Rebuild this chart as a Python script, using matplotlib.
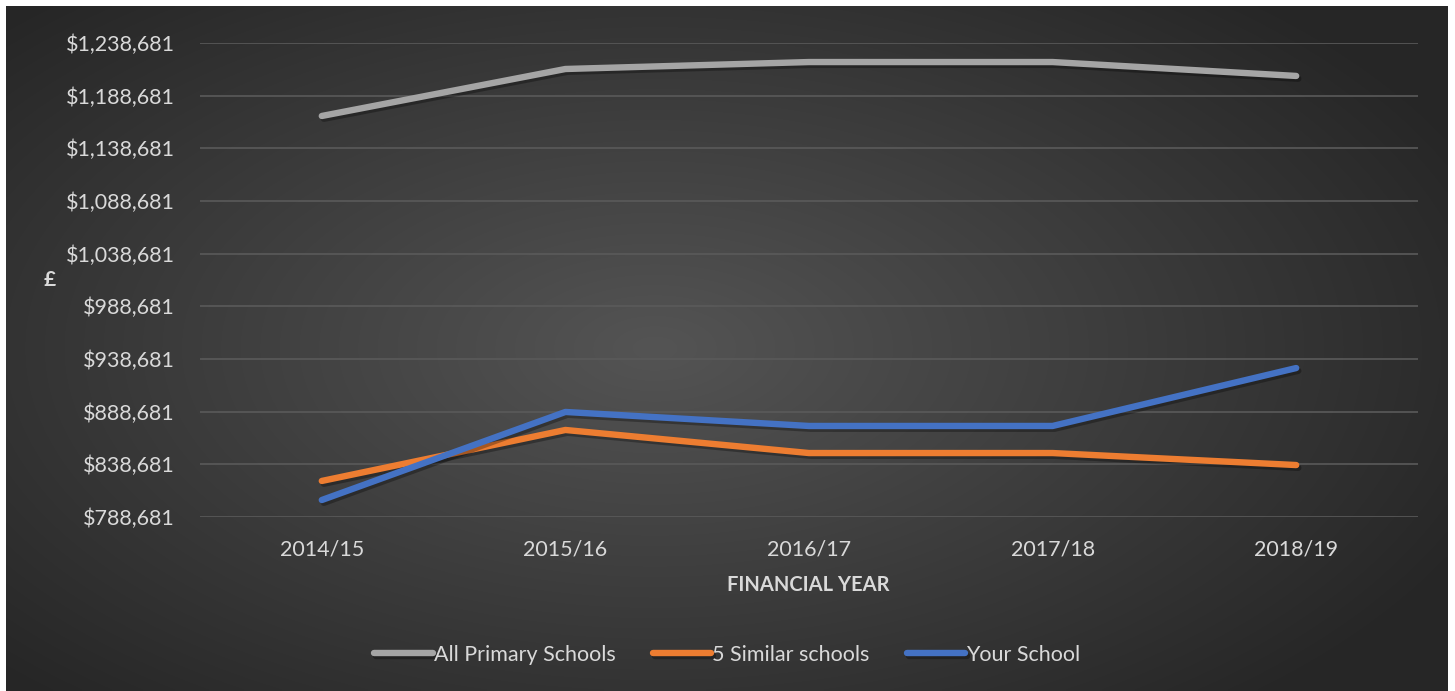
import matplotlib.pyplot as plt
import matplotlib.patheffects as pe
from matplotlib.ticker import FixedLocator
import numpy as np

plt.rcParams['font.family'] = ['Lato', 'DejaVu Sans']

# data
years = ['2014/15', '2015/16', '2016/17', '2017/18', '2018/19']
all_primary = [1169400, 1214000, 1220600, 1220600, 1207400]
similar5 = [822900, 871300, 849400, 849400, 838000]
your_school = [804800, 888400, 875100, 875100, 930100]
yticks = [788681, 838681, 888681, 938681, 988681, 1038681, 1088681, 1138681, 1188681, 1238681]

txt = '#D9D9D9'
W, H = 1455, 691
fig = plt.figure(figsize=(W / 100, H / 100), dpi=100)
fig.patch.set_facecolor('white')

# dark radial background panel
bg = fig.add_axes([6 / W, 0, (1448 - 6) / W, (H - 6) / H])
bg.set_axis_off()
gx, gy = np.meshgrid(np.linspace(-1, 1, 400), np.linspace(-1, 1, 200))
r = np.sqrt((gx + 0.1) ** 2 + (gy * 0.9) ** 2)
r = np.clip(r / 1.25, 0, 1)
c = 0.33 - 0.18 * r
img = np.dstack([c, c, c])
bg.imshow(img, aspect='auto', extent=[0, 1, 0, 1], interpolation='bilinear')

ax = fig.add_axes([200 / W, 1 - 517 / H, (1418 - 200) / W, (517 - 43) / H])
ax.set_facecolor('none')
x = np.arange(len(years))
shadow = [pe.SimpleLineShadow(offset=(1.5, -2), shadow_color='black', alpha=0.3), pe.Normal()]
ax.plot(x, all_primary, color='#A5A5A5', lw=4.6, solid_capstyle='round', label='All Primary Schools', path_effects=shadow)
ax.plot(x, similar5, color='#ED7D31', lw=4.6, solid_capstyle='round', label='5 Similar schools', path_effects=shadow)
ax.plot(x, your_school, color='#4472C4', lw=4.6, solid_capstyle='round', label='Your School', path_effects=shadow)

ax.set_xlim(-0.5, 4.5)
ax.set_ylim(yticks[0], yticks[-1])
ax.set_xticks(x)
ax.set_xticklabels(years)
ax.yaxis.set_major_locator(FixedLocator(yticks))
ax.set_yticklabels(['${:,}'.format(v) for v in yticks])
ax.grid(axis='y', color='#5A5A5A', lw=1.2)
ax.set_axisbelow(True)
for s in ax.spines.values():
    s.set_visible(False)
ax.tick_params(colors=txt, labelsize=15.5, length=0)
ax.tick_params(axis='y', pad=18)
ax.tick_params(axis='x', pad=16)

fig.text(808 / W, 1 - 585 / H, 'FINANCIAL YEAR', color=txt, fontsize=14.5, fontweight='bold', ha='center', va='center')
fig.text(50 / W, 1 - 280 / H, '£', color=txt, fontsize=15, fontweight='bold', ha='center', va='center')

leg = fig.legend(loc='center', bbox_to_anchor=(0.5, 1 - 655 / H), ncol=3, frameon=False,
                 fontsize=15.5, handlelength=2.7, handletextpad=0.05, columnspacing=1.75)
for t in leg.get_texts():
    t.set_color(txt)

fig.savefig('out.png', dpi=100, facecolor=fig.get_facecolor())
